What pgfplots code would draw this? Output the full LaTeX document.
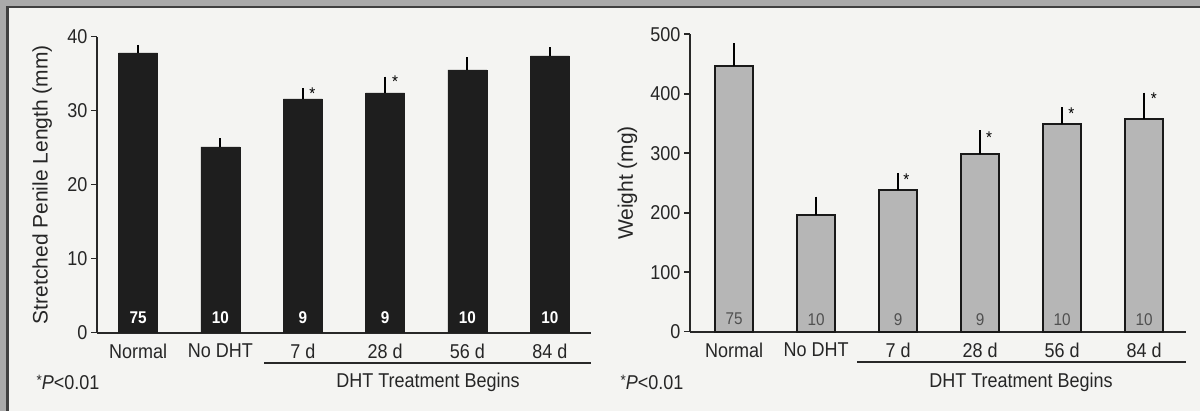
\documentclass[border=0pt]{standalone}
\usepackage{pgfplots}
\pgfplotsset{compat=1.18}
\usepackage{fontspec}
\setmainfont[FakeStretch=0.9]{Liberation Sans}
\newfontfamily\ylabfont{Liberation Sans}
\definecolor{panel}{RGB}{244,244,242}
\definecolor{frame}{RGB}{170,170,170}
\definecolor{barblack}{RGB}{30,30,30}
\definecolor{bargray}{RGB}{182,182,182}
\definecolor{axiscol}{RGB}{40,40,40}
\definecolor{numgray}{RGB}{80,80,80}
\pgfplotsset{
  common/.style={
    scale only axis,
    /pgf/number format/assume math mode=true,
    axis x line=bottom, axis y line=left,
    axis line style={-, line width=2pt, draw=axiscol},
    xtick={0,1,2,3,4,5},
    xticklabels={Normal,No DHT,7 d,28 d,56 d,84 d},
    x tick style={draw=none},
    y tick style={line width=1.6pt, draw=axiscol},
    major tick length=6pt, tick align=outside,
    ticklabel style={font=\fontsize{20}{20}\selectfont, text=black!85},
    xticklabel style={yshift=-2pt},
    ylabel style={anchor=center, font=\ylabfont\fontsize{21}{21}\selectfont, text=black!85},
    ybar, clip=false,
  },
}
\tikzset{
  wnum/.style={text=white, font=\bfseries\fontsize{17}{17}\selectfont},
  gnum/.style={text=numgray, font=\fontsize{17}{17}\selectfont},
  ast/.style={font=\fontsize{17}{17}\selectfont},
  lab/.style={font=\fontsize{20}{20}\selectfont, text=black!85},
}
\begin{document}
\begin{tikzpicture}
\path[use as bounding box] (0pt,0pt) rectangle (1200pt,411pt);
\fill[frame] (0pt,0pt) rectangle (1200pt,411pt);
\fill[black!75] (6pt,0pt) rectangle (1200pt,405pt);
\fill[panel] (8.5pt,0pt) rectangle (1200pt,402.5pt);

% ---------------- left chart
\begin{axis}[common,
  at={(97pt,78.3pt)}, anchor=south west,
  width=494pt, height=296pt,
  xmin=-0.5, xmax=5.5, ymin=0, ymax=40,
  ytick={0,10,20,30,40},
  ylabel={Stretched Penile Length (mm)},
  ylabel style={at={(axis description cs:-0.111,0.5)}},
  bar width=39pt]
\addplot[ybar, fill=barblack, draw=barblack,
  error bars/.cd, y dir=plus, y explicit, error mark=none,
  error bar style={line width=2pt, black}]
  coordinates {(0,37.8) +- (0,1.1) (1,25.1) +- (0,1.2) (2,31.6) +- (0,1.4)
               (3,32.4) +- (0,2.2) (4,35.5) +- (0,1.7) (5,37.4) +- (0,1.2)};
\node[wnum] at (axis cs:0,2.05) {75};
\node[wnum] at (axis cs:1,2.05) {10};
\node[wnum] at (axis cs:2,2.05) {9};
\node[wnum] at (axis cs:3,2.05) {9};
\node[wnum] at (axis cs:4,2.05) {10};
\node[wnum] at (axis cs:5,2.05) {10};
\node[ast] at (axis cs:2.115,32.3) {*};
\node[ast] at (axis cs:3.12,33.9) {*};
\end{axis}
\draw[line width=2pt, axiscol] (264pt,48pt) -- (591pt,48pt);
\node[lab] at (428pt,29pt) {DHT Treatment Begins};
\node[lab, anchor=west] at (33pt,29pt) {\raisebox{0.2em}{\fontsize{15}{15}\selectfont *}\textit{P}<0.01};

% ---------------- right chart
\begin{axis}[common,
  at={(690pt,79.3pt)}, anchor=south west,
  width=495.5pt, height=297.4pt,
  xmin=-0.537, xmax=5.506, ymin=0, ymax=500,
  ytick={0,100,200,300,400,500},
  ylabel={Weight (mg)},
  ylabel style={at={(axis description cs:-0.126,0.5)}},
  bar width=38.5pt]
\addplot[ybar, fill=bargray, draw=black!90, line width=2pt,
  error bars/.cd, y dir=plus, y explicit, error mark=none,
  error bar style={line width=2pt, black}]
  coordinates {(0,447) +- (0,38) (1,197) +- (0,30) (2,238) +- (0,29)
               (3,298) +- (0,41) (4,349) +- (0,28) (5,358) +- (0,44)};
\node[gnum] at (axis cs:0,21) {75};
\node[gnum] at (axis cs:1,21) {10};
\node[gnum] at (axis cs:2,21) {9};
\node[gnum] at (axis cs:3,21) {9};
\node[gnum] at (axis cs:4,21) {10};
\node[gnum] at (axis cs:5,21) {10};
\node[ast] at (axis cs:2.1,256) {*};
\node[ast] at (axis cs:3.11,327) {*};
\node[ast] at (axis cs:4.115,367) {*};
\node[ast] at (axis cs:5.12,391) {*};
\end{axis}
\draw[line width=2pt, axiscol] (857pt,49pt) -- (1185.5pt,49pt);
\node[lab] at (1021pt,29pt) {DHT Treatment Begins};
\node[lab, anchor=west] at (617pt,29pt) {\raisebox{0.2em}{\fontsize{15}{15}\selectfont *}\textit{P}<0.01};
\end{tikzpicture}
\end{document}
